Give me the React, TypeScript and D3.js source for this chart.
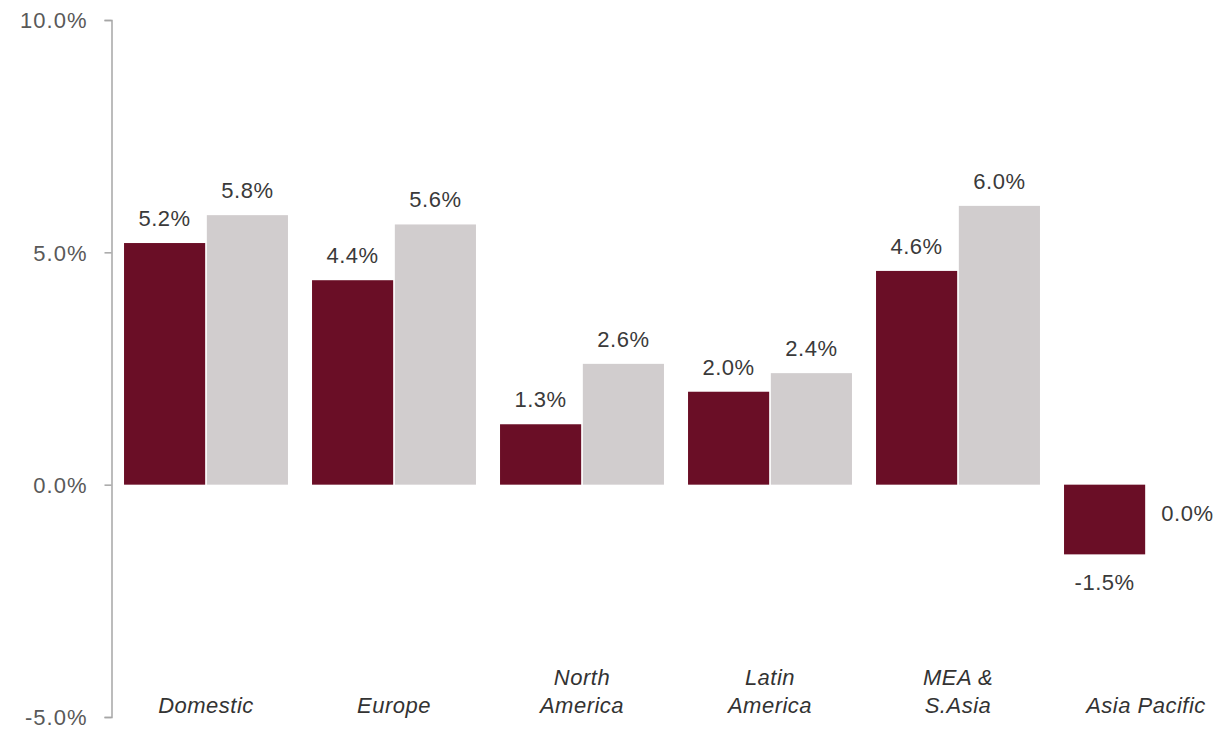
import { useRef, useEffect } from 'react';
import * as d3 from 'd3';

const W = 1220;
const H = 732;

const regions = ['Domestic', 'Europe', 'North America', 'Latin America', 'MEA & S.Asia', 'Asia Pacific'];
const regionLines = [['Domestic'], ['Europe'], ['North', 'America'], ['Latin', 'America'], ['MEA &', 'S.Asia'], ['Asia Pacific']];
const seriesKeys = ['prior', 'current'];
const priorValues = [5.2, 4.4, 1.3, 2.0, 4.6, -1.5];
const currentValues = [5.8, 5.6, 2.6, 2.4, 6.0, 0.0];
const yTicks = [-5, 0, 5, 10];

const COLORS: Record<string, string> = { prior: '#6a0e26', current: '#d1cdce' };
const FONT = 'Liberation Sans, Arial, sans-serif';

export default function App() {
  const svgRef = useRef<SVGSVGElement | null>(null);

  useEffect(() => {
    if (!svgRef.current) return;
    const svg = d3.select(svgRef.current);
    svg.selectAll('*').remove();

    const y = d3.scaleLinear().domain([-5, 10]).range([717, 20]);
    const x0 = d3.scaleBand<string>().domain(regions).range([112, 112 + 6 * 188]).paddingInner(0.128).paddingOuter(0.064);
    const x1 = d3.scaleBand<string>().domain(seriesKeys).range([0, x0.bandwidth()]).paddingInner(0.02);

    // y axis
    const axis = d3.axisLeft(y).tickValues(yTicks).tickSize(7).tickFormat(d => `${(+d).toFixed(1)}%`);
    const ag = svg.append('g').attr('transform', 'translate(111.5,0)').call(axis);
    ag.select('.domain').attr('stroke', '#a6a6a6').attr('stroke-width', 1.5);
    ag.selectAll('.tick line').attr('stroke', '#a6a6a6').attr('stroke-width', 1.5);
    ag.selectAll('.tick text')
      .attr('x', -24).attr('dy', '0.36em')
      .attr('fill', '#595959').style('font-family', FONT).style('font-size', '22px')
      .style('letter-spacing', '1px');

    const rows = regions.map((r, i) => ({ region: r, lines: regionLines[i], prior: priorValues[i], current: currentValues[i] }));

    const groups = svg.append('g').selectAll('g').data(rows).join('g')
      .attr('transform', d => `translate(${x0(d.region)},0)`);

    seriesKeys.forEach(k => {
      groups.append('rect')
        .attr('x', x1(k)!)
        .attr('y', d => y(Math.max(0, (d as any)[k])))
        .attr('width', x1.bandwidth())
        .attr('height', d => Math.abs(y((d as any)[k]) - y(0)))
        .attr('fill', COLORS[k])
        .attr('stroke', d => ((d as any)[k] === 0 ? COLORS[k] : 'none'))
        .attr('stroke-width', 1);

      groups.append('text')
        .attr('x', x1(k)! + x1.bandwidth() / 2)
        .attr('y', d => {
          const v = (d as any)[k];
          return v > 0 ? y(v) - 17 : y(v) + 36;
        })
        .attr('text-anchor', 'middle')
        .attr('fill', '#3a3a3a')
        .style('font-family', FONT).style('font-size', '22px').style('letter-spacing', '0.5px')
        .text(d => `${(d as any)[k].toFixed(1)}%`);
    });

    // category labels, bottom aligned
    groups.each(function (d) {
      const g = d3.select(this);
      const n = d.lines.length;
      d.lines.forEach((line, i) => {
        g.append('text')
          .attr('x', x0.bandwidth() / 2)
          .attr('y', 713 - (n - 1 - i) * 28)
          .attr('text-anchor', 'middle')
          .attr('fill', '#333')
          .style('font-family', FONT).style('font-size', '22px').style('font-style', 'italic')
          .style('letter-spacing', '0.5px')
          .text(line);
      });
    });
  }, []);

  return (
    <div style={{ position: 'fixed', left: 0, top: 0, width: W, height: H, background: '#fff', overflow: 'hidden' }}>
      <svg ref={svgRef} width={W} height={H} role="img" aria-label="Growth by region bar chart" />
    </div>
  );
}
